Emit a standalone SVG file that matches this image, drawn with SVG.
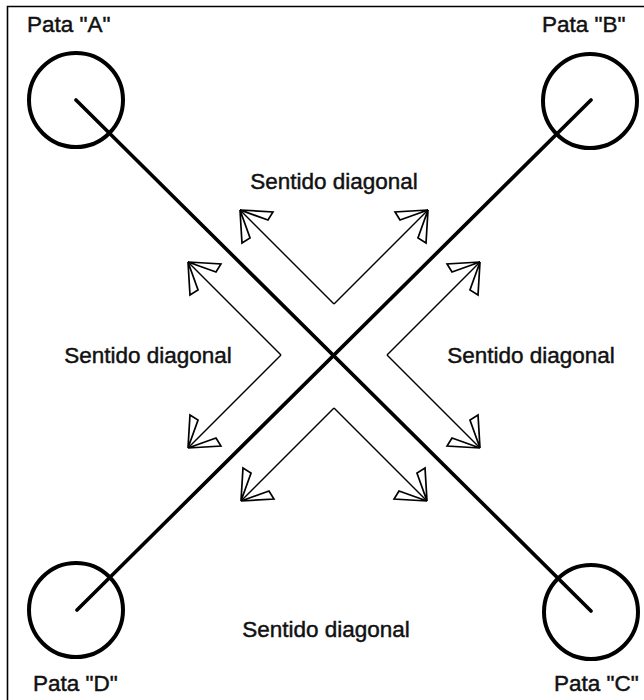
<svg xmlns="http://www.w3.org/2000/svg" width="644" height="700" viewBox="0 0 644 700">
<style>
.lbl{font-family:"Liberation Sans",Arial,sans-serif;font-size:22.5px;fill:#111;stroke:#111;stroke-width:0.45;}
.leg{fill:none;stroke:#000;stroke-width:4;}
.bar{fill:none;stroke:#000;stroke-width:3.6;stroke-linecap:round;}
.sh{fill:none;stroke:#000;stroke-width:1.4;marker-end:url(#hd);}
</style>
<defs>
<marker id="hd" markerUnits="userSpaceOnUse" orient="auto" markerWidth="60" markerHeight="60" refX="0" refY="0" viewBox="-30 -30 60 60" overflow="visible">
<path d="M0,0 L-24.7,-21.9 L-26.9,-12.7 Z M0,0 L-24.7,21.9 L-26.9,12.7 Z" fill="#fff" stroke="#000" stroke-width="1.7" stroke-linejoin="miter"/>
</marker>
</defs>
<rect x="0" y="0" width="644" height="700" fill="#fff"/>
<path d="M7.5,700 L7.5,6.5 L644,6.5" fill="none" stroke="#000" stroke-width="1.6"/>
<g id="connectors">
<line class="bar" x1="76" y1="100" x2="591" y2="611"/>
<line class="bar" x1="591" y1="100" x2="77" y2="610"/>
<line class="sh" x1="334" y1="304" x2="240" y2="210"/>
<line class="sh" x1="334" y1="304" x2="428" y2="210"/>
<line class="sh" x1="281" y1="355" x2="188" y2="262"/>
<line class="sh" x1="281" y1="355" x2="188" y2="448"/>
<line class="sh" x1="387" y1="355" x2="480" y2="262"/>
<line class="sh" x1="387" y1="355" x2="480" y2="448"/>
<line class="sh" x1="334" y1="408" x2="241" y2="501"/>
<line class="sh" x1="334" y1="408" x2="427" y2="501"/>
</g>
<g id="pataA"><circle class="leg" cx="76" cy="100" r="47"/><text class="lbl" x="27" y="32">Pata "A"</text></g>
<g id="pataB"><circle class="leg" cx="590" cy="101" r="47"/><text class="lbl" x="542" y="32">Pata "B"</text></g>
<g id="pataC"><circle class="leg" cx="591" cy="612" r="47"/><text class="lbl" x="554" y="691">Pata "C"</text></g>
<g id="pataD"><circle class="leg" cx="76" cy="610" r="47"/><text class="lbl" x="33" y="691">Pata "D"</text></g>
<g id="labelTop"><text class="lbl" x="334" y="189" text-anchor="middle">Sentido diagonal</text></g>
<g id="labelLeft"><text class="lbl" x="148" y="363" text-anchor="middle">Sentido diagonal</text></g>
<g id="labelRight"><text class="lbl" x="531" y="363" text-anchor="middle">Sentido diagonal</text></g>
<g id="labelBottom"><text class="lbl" x="326" y="637" text-anchor="middle">Sentido diagonal</text></g>
</svg>
